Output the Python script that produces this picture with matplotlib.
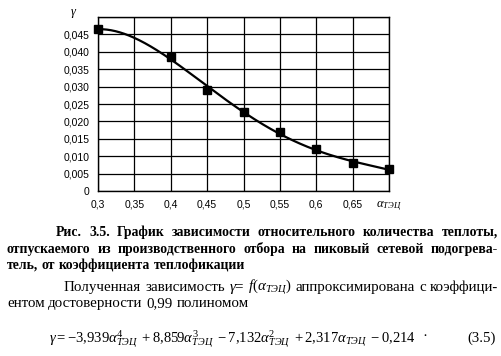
import matplotlib
matplotlib.use("Agg")
import matplotlib.pyplot as plt
import numpy as np

# data
alpha = [0.3, 0.4, 0.45, 0.5, 0.55, 0.6, 0.65, 0.7]
gamma = [0.0465, 0.0384, 0.0291, 0.0228, 0.0169, 0.0121, 0.0080, 0.0062]
# trend polynomial printed under the chart (3.5)
coeffs = [-3.939, 8.859, -7.132, 2.317, -0.214]

x_ticks = [0.3, 0.35, 0.4, 0.45, 0.5, 0.55, 0.6, 0.65, 0.7]
x_labels = ["0,3", "0,35", "0,4", "0,45", "0,5", "0,55", "0,6", "0,65", r"$\alpha_{ТЭЦ}$"]
y_ticks = [0, 0.005, 0.01, 0.015, 0.02, 0.025, 0.03, 0.035, 0.04, 0.045, 0.05]
y_labels = ["0", "0,005", "0,010", "0,015", "0,020", "0,025", "0,030", "0,035", "0,040", "0,045", ""]

caption = ["Рис. 3.5. График зависимости относительного количества теплоты,",
           "отпускаемого из производственного отбора на пиковый сетевой подогрева-",
           "тель, от коэффициента теплофикации"]
para = [r"Полученная зависимость $\gamma$= $f(\alpha_{ТЭЦ})$ аппроксимирована с коэффици-",
        "ентом достоверности 0,99 полиномом"]
equation = (r"$\gamma = -3{,}939\alpha^4_{ТЭЦ}\ + 8{,}859\alpha^3_{ТЭЦ}\ - 7{,}132\alpha^2_{ТЭЦ}"
            r"\ + 2{,}317\alpha_{ТЭЦ}\ - 0{,}214$")

plt.rcParams["mathtext.fontset"] = "custom"
plt.rcParams["mathtext.rm"] = "Liberation Serif"
plt.rcParams["mathtext.it"] = "Liberation Serif:italic"
plt.rcParams["mathtext.bf"] = "Liberation Serif:bold"

W, H = 502, 356
fig = plt.figure(figsize=(W / 100, H / 100), dpi=100)
ax = fig.add_axes([98 / W, 1 - 191 / H, 291 / W, 174 / H])

xs = np.linspace(0.3, 0.7, 200)
ax.plot(xs, np.polyval(coeffs, xs), color="black", lw=1.6, zorder=3)
ax.plot(alpha, gamma, "s", color="black", ms=5.5, zorder=4, clip_on=False)

ax.set_xlim(0.3, 0.7)
ax.set_ylim(0, 0.05)
ax.set_xticks(x_ticks)
ax.set_xticklabels(x_labels)
ax.set_yticks(y_ticks)
ax.set_yticklabels(y_labels)
for lab in ax.get_xticklabels() + ax.get_yticklabels():
    lab.set_fontfamily("Liberation Sans")
    lab.set_fontsize(7.5)
ax.get_xticklabels()[-1].set_fontsize(9)
ax.tick_params(length=0, pad=6)
ax.grid(True, color="black", lw=0.9)
for s in ax.spines.values():
    s.set_linewidth(1.0)
fig.text(74 / W, 1 - 14 / H, r"$\gamma$", fontsize=9, ha="center", va="center")

renderer = fig.canvas.get_renderer()


def put_line(text, x0, x1, y, justify=True, **kw):
    words = text.split(" ")
    objs = [fig.text(0, 1 - y / H, w, va="baseline", **kw) for w in words]
    widths = [o.get_window_extent(renderer).width for o in objs]
    if justify and len(words) > 1:
        gap = (x1 - x0 - sum(widths)) / (len(words) - 1)
    else:
        sp = fig.text(0, 0, "a a", **kw)
        sa = fig.text(0, 0, "aa", **kw)
        gap = sp.get_window_extent(renderer).width - sa.get_window_extent(renderer).width
        sp.remove()
        sa.remove()
    x = x0
    for o, w in zip(objs, widths):
        o.set_x(x / W)
        x += w + gap


cap_kw = dict(fontfamily="Liberation Serif", fontweight="bold", fontsize=9.9)
put_line(caption[0], 56, 498, 236, **cap_kw)
put_line(caption[1], 7, 498, 253, **cap_kw)
put_line(caption[2], 7, 498, 269, justify=False, **cap_kw)

par_kw = dict(fontfamily="Liberation Serif", fontsize=10.8)
put_line(para[0], 64, 498, 291, **par_kw)
put_line(para[1], 7, 498, 307, justify=False, **par_kw)

fig.text(49 / W, 1 - 342 / H, equation, fontsize=10.5, va="baseline")
fig.text(422 / W, 1 - 340 / H, "·", fontsize=11, va="baseline", fontfamily="Liberation Serif")
fig.text(496 / W, 1 - 342 / H, "(3.5)", fontsize=10.75, va="baseline", ha="right",
         fontfamily="Liberation Serif")

fig.savefig("out.png", dpi=100)
